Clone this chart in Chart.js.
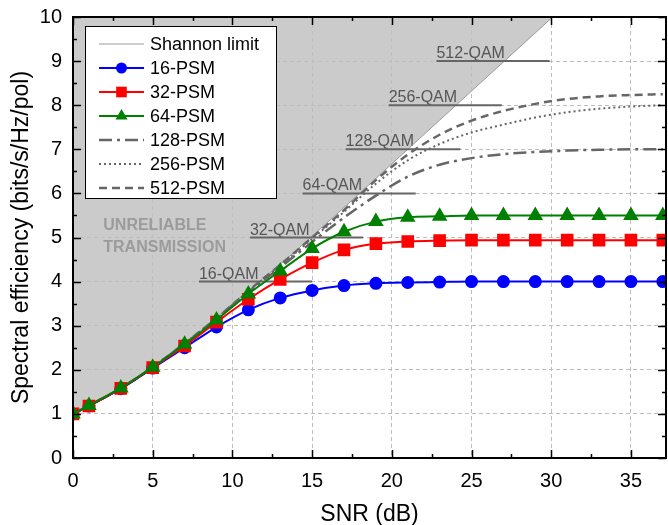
<!DOCTYPE html>
<html>
<head>
<title>Spectral efficiency vs SNR</title>
<script src="https://cdn.jsdelivr.net/npm/chart.js"></script>
<style>
    body { margin: 0; background: #fff; }
</style>
</head>
<body>
<canvas id="chart" width="668" height="525"></canvas>
<script>
    // SNR points (dB) where the curves were read
    const snr = [0, 1, 3, 5, 7, 9, 11, 13, 15, 17, 19, 21, 23, 25, 27, 29, 31, 33, 35, 37];
    const psm16  = [1.0, 1.18, 1.57, 2.04, 2.50, 2.97, 3.36, 3.63, 3.80, 3.91, 3.96, 3.98, 3.99, 4.0, 4.0, 4.0, 4.0, 4.0, 4.0, 4.0];
    const psm32  = [1.0, 1.18, 1.58, 2.05, 2.54, 3.08, 3.60, 4.05, 4.43, 4.72, 4.86, 4.91, 4.93, 4.94, 4.94, 4.94, 4.94, 4.94, 4.94, 4.94];
    const psm64  = [1.0, 1.19, 1.59, 2.06, 2.58, 3.13, 3.72, 4.24, 4.75, 5.13, 5.36, 5.46, 5.48, 5.5, 5.5, 5.5, 5.5, 5.5, 5.5, 5.5];
    const psm128 = [1.0, 1.19, 1.58, 2.06, 2.59, 3.16, 3.76, 4.32, 4.90, 5.45, 5.95, 6.38, 6.65, 6.80, 6.89, 6.94, 6.97, 6.99, 7.0, 7.0];
    const psm256 = [1.0, 1.19, 1.58, 2.06, 2.60, 3.17, 3.78, 4.36, 4.97, 5.58, 6.22, 6.75, 7.12, 7.38, 7.56, 7.72, 7.84, 7.92, 7.97, 8.0];
    const psm512 = [1.0, 1.19, 1.58, 2.06, 2.60, 3.17, 3.79, 4.38, 5.00, 5.62, 6.30, 6.88, 7.33, 7.65, 7.87, 8.03, 8.14, 8.20, 8.23, 8.25];

    const shannonSnr = [0, 1, 3, 5, 7, 9, 11, 13, 15, 17, 19, 21, 23, 25, 27, 29, 31];
    const shannon    = [1.0, 1.19, 1.58, 2.06, 2.60, 3.18, 3.80, 4.39, 5.03, 5.68, 6.34, 7.0, 7.66, 8.32, 8.98, 9.64, 10.3];

    // QAM reference levels
    const qamNames = ['16-QAM', '32-QAM', '64-QAM', '128-QAM', '256-QAM', '512-QAM'];
    const qamLevel = [4, 5, 6, 7, 8, 9];
    const qamStart = [7.9, 11.1, 14.4, 17.1, 19.8, 22.8];
    const qamEnd   = [15.0, 18.2, 21.5, 24.3, 26.9, 29.9];

    const xTicks = [0, 5, 10, 15, 20, 25, 30, 35];
    const yTicks = [0, 1, 2, 3, 4, 5, 6, 7, 8, 9, 10];

    const FONT = '"Liberation Sans", Arial, sans-serif';

    function pts(xs, ys) {
        return xs.map((x, i) => ({ x: x, y: ys[i] }));
    }

    const datasets = [
        { label: 'Shannon limit', data: pts(shannonSnr, shannon), borderColor: '#9a9a9a', borderWidth: 1,
          pointRadius: 0, fill: 'end', backgroundColor: '#cbcbcb', order: 6 },
        { label: '16-PSM', data: pts(snr, psm16), borderColor: '#0000ff', backgroundColor: '#0000ff', borderWidth: 2,
          pointStyle: 'circle', pointRadius: 5.5, order: 3 },
        { label: '32-PSM', data: pts(snr, psm32), borderColor: '#ff0000', backgroundColor: '#ff0000', borderWidth: 2,
          pointStyle: 'rect', pointRadius: 7.5, order: 2 },
        { label: '64-PSM', data: pts(snr, psm64), borderColor: '#008000', backgroundColor: '#008000', borderWidth: 2,
          pointStyle: 'triangle', pointRadius: 7, order: 1 },
        { label: '128-PSM', data: pts(snr, psm128), borderColor: '#666', borderWidth: 2.5, borderDash: [13, 5, 3, 5],
          pointRadius: 0, order: 4 },
        { label: '256-PSM', data: pts(snr, psm256), borderColor: '#666', borderWidth: 2, borderDash: [2, 3],
          pointRadius: 0, order: 4 },
        { label: '512-PSM', data: pts(snr, psm512), borderColor: '#666', borderWidth: 2.5, borderDash: [8, 5],
          pointRadius: 0, order: 4 }
    ];
    qamNames.forEach((n, i) => {
        datasets.push({ label: n, data: [{ x: qamStart[i], y: qamLevel[i] }, { x: qamEnd[i], y: qamLevel[i] }],
            borderColor: '#666', borderWidth: 2, pointRadius: 0, order: 5 });
    });

    function drawMarker(ctx, style, x, y, r, color) {
        ctx.fillStyle = color;
        ctx.beginPath();
        if (style === 'circle') {
            ctx.arc(x, y, r, 0, Math.PI * 2);
        } else if (style === 'rect') {
            const s = r * Math.SQRT1_2;
            ctx.rect(x - s, y - s, 2 * s, 2 * s);
        } else if (style === 'triangle') {
            ctx.moveTo(x, y - r);
            ctx.lineTo(x + r * 0.866, y + r * 0.5);
            ctx.lineTo(x - r * 0.866, y + r * 0.5);
            ctx.closePath();
        }
        ctx.fill();
    }

    const decor = {
        id: 'decor',
        beforeDatasetsDraw(chart) {
            const ctx = chart.ctx;
            const xs = chart.scales.x, ys = chart.scales.y;
            ctx.save();
            ctx.font = 'bold 16px ' + FONT;
            ctx.fillStyle = '#9b9b9b';
            ctx.textBaseline = 'middle';
            ctx.fillText('UNRELIABLE', xs.getPixelForValue(1.9), ys.getPixelForValue(5.26));
            ctx.fillText('TRANSMISSION', xs.getPixelForValue(1.9), ys.getPixelForValue(4.76));
            ctx.font = '16px ' + FONT;
            ctx.fillStyle = '#555';
            ctx.textBaseline = 'alphabetic';
            qamNames.forEach((n, i) => {
                ctx.fillText(n, xs.getPixelForValue(qamStart[i]), ys.getPixelForValue(qamLevel[i]) - 3);
            });
            ctx.restore();
        },
        afterDraw(chart) {
            const ctx = chart.ctx;
            const xs = chart.scales.x, ys = chart.scales.y;
            const { left, right, top, bottom } = chart.chartArea;
            ctx.save();
            ctx.strokeStyle = '#000';
            ctx.lineWidth = 1.5;
            ctx.beginPath();
            for (let v = 0; v <= xs.max; v += 2.5) {
                const px = Math.round(xs.getPixelForValue(v)) + 0.5;
                const len = v % 5 === 0 ? 8 : 4;
                ctx.moveTo(px, bottom); ctx.lineTo(px, bottom - len);
                ctx.moveTo(px, top); ctx.lineTo(px, top + len);
            }
            for (let v = 0; v <= 10; v += 0.5) {
                const py = Math.round(ys.getPixelForValue(v)) + 0.5;
                const len = v % 1 === 0 ? 8 : 4;
                ctx.moveTo(left, py); ctx.lineTo(left + len, py);
                ctx.moveTo(right, py); ctx.lineTo(right - len, py);
            }
            ctx.stroke();
            ctx.lineWidth = 2;
            ctx.strokeRect(left, top, right - left, bottom - top);

            // legend box
            const bx = 85, by = 26, bw = 191, bh = 172;
            ctx.fillStyle = '#fff';
            ctx.fillRect(bx, by, bw, bh);
            ctx.lineWidth = 1;
            ctx.strokeStyle = '#000';
            ctx.strokeRect(bx + 0.5, by + 0.5, bw, bh);
            ctx.font = '18px ' + FONT;
            ctx.textBaseline = 'middle';
            for (let i = 0; i < 7; i++) {
                const ds = chart.data.datasets[i];
                const y = 44 + i * 24;
                ctx.strokeStyle = ds.borderColor;
                ctx.lineWidth = ds.borderWidth;
                ctx.setLineDash(ds.borderDash || []);
                ctx.beginPath();
                ctx.moveTo(99, y); ctx.lineTo(144, y);
                ctx.stroke();
                ctx.setLineDash([]);
                if (ds.pointRadius) drawMarker(ctx, ds.pointStyle, 121.5, y, ds.pointRadius, ds.backgroundColor);
                ctx.fillStyle = '#000';
                ctx.fillText(ds.label, 150, y + 1);
            }
            ctx.restore();
        }
    };

    new Chart(document.getElementById('chart').getContext('2d'), {
        type: 'line',
        data: { datasets: datasets },
        options: {
            responsive: false,
            animation: false,
            layout: { autoPadding: false, padding: { top: 17, right: 2, left: 0, bottom: 0 } },
            elements: { line: { cubicInterpolationMode: 'monotone', fill: false } },
            plugins: {
                legend: { display: false },
                tooltip: { enabled: false },
                filler: { drawTime: 'beforeDraw' }
            },
            scales: {
                x: {
                    type: 'linear', min: 0, max: 37.2,
                    afterFit: s => { s.height = 67; s.paddingLeft = 0; s.paddingRight = 0; },
                    afterBuildTicks: s => { s.ticks = xTicks.map(v => ({ value: v })); },
                    ticks: { padding: 11, color: '#000', font: { size: 20, family: FONT } },
                    grid: { color: '#bdbdbd', drawTicks: false },
                    border: { display: false, dash: [4, 3] },
                    title: { display: true, text: 'SNR (dB)', color: '#000', font: { size: 23, family: FONT },
                             padding: { top: 0, bottom: -3 } }
                },
                y: {
                    type: 'linear', min: 0, max: 10,
                    afterFit: s => { s.width = 73; s.paddingTop = 0; s.paddingBottom = 0; },
                    afterBuildTicks: s => { s.ticks = yTicks.map(v => ({ value: v })); },
                    ticks: { padding: 11, color: '#000', font: { size: 20, family: FONT } },
                    grid: { color: '#bdbdbd', drawTicks: false },
                    border: { display: false, dash: [4, 3] },
                    title: { display: true, text: 'Spectral efficiency (bits/s/Hz/pol)', color: '#000',
                             font: { size: 23, family: FONT }, padding: { top: 8, bottom: 0 } }
                }
            }
        },
        plugins: [decor]
    });
</script>
</body>
</html>
